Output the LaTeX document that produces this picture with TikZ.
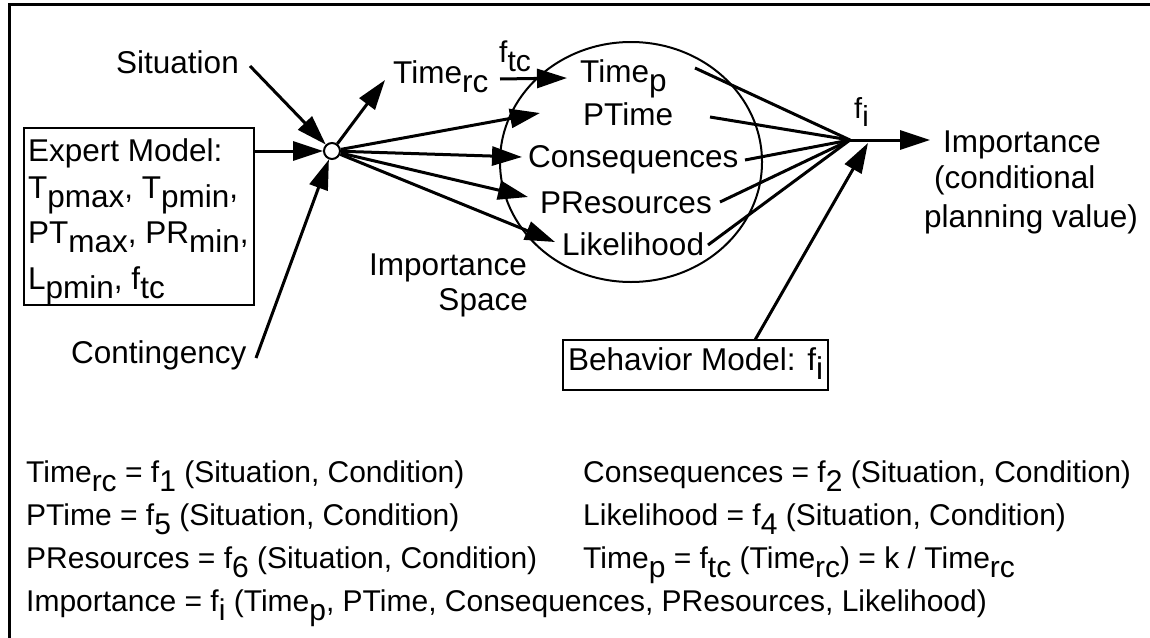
\documentclass[tikz,border=0pt]{standalone}
\usepackage{fontspec}
\setmainfont{Liberation Sans}
\usetikzlibrary{arrows.meta,shapes.geometric,calc}
\newcommand\lowr[1]{\raisebox{-0.3em}{#1}}
\begin{document}
\begin{tikzpicture}[x=1pt,y=-1pt,
  lbl/.style={inner sep=0pt, anchor=base west, font=\fontsize{31.5}{36}\selectfont},
  lble/.style={inner sep=0pt, anchor=base east, font=\fontsize{31.5}{36}\selectfont},
  eqn/.style={inner sep=0pt, anchor=base west, font=\fontsize{30}{36}\selectfont},
  arr/.style={line width=3pt, -{Triangle[length=30pt,width=19pt]}},
  ln/.style={line width=3pt},
  boxst/.style={draw, line width=2.2pt}]
\useasboundingbox (0,0) rectangle (1150,637);
% frame (top and left only visible)
\draw[line width=2.6pt] (9.5,650) -- (9.5,4.7) -- (1160,4.7);

% inputs
\node[lbl] (sit) at (116,73) {Situation};
\node[lbl] (cont) at (71,363) {Contingency};
\node[boxst, minimum width=230pt, minimum height=177pt, anchor=north west, inner sep=0pt] (expert) at (23,127) {};
\node[lbl] (ex1) at (28,161) {Expert Model:};
\node[lbl] (ex2) at (28,198) {T\lowr{pmax}, T\lowr{pmin},};
\node[lbl] (ex3) at (28,243) {PT\lowr{max}, PR\lowr{min},};
\node[lbl] (ex4) at (28,289) {L\lowr{pmin}, f\lowr{tc}};

% importance space
\node[ellipse, draw, line width=2pt, minimum width=262pt, minimum height=240pt, inner sep=0pt] (space) at (631,162) {};
\node[lbl] (timerc) at (393,83) {Time\lowr{rc}};
\node[inner sep=0pt, anchor=base west, font=\fontsize{30}{34}\selectfont] (ftc) at (499,62) {f\lowr{tc}};
\node[lbl] (timep) at (580,82) {Time\lowr{p}};
\node[lbl] (ptime) at (583,125) {PTime};
\node[lbl] (cons) at (528,167) {Consequences};
\node[lbl] (pres) at (540,213) {PResources};
\node[lbl] (like) at (562,255) {Likelihood};
\node[lble] (is1) at (527,275) {Importance};
\node[lble] (is2) at (528,310) {Space};

% output
\node[inner sep=0pt, anchor=base west, font=\fontsize{29}{32}\selectfont] (filbl) at (854,118) {f\lowr{i}};
\node[lbl] (imp1) at (943,152) {Importance};
\node[lbl] (imp2) at (934,188) {(conditional};
\node[lbl] (imp3) at (924,227) {planning value)};
\node[boxst, anchor=base west, inner xsep=5pt, inner ysep=8pt, text height=22pt, text depth=12pt, font=\fontsize{31.5}{36}\selectfont] (beh) at (562,370) {Behavior Model: f\lowr{i}};

% coordinates
\coordinate (sitA) at (250,66);
\coordinate (contA) at (256,358);
\coordinate (rcTip) at (385,80);
\coordinate (rcA) at (500,79);
\coordinate (pTip) at (567,78);
\coordinate (ptTip) at (540,113);
\coordinate (coTip) at (522,157);
\coordinate (prTip) at (528,197);
\coordinate (liTip) at (555,242);
\coordinate (c1) at (695,68);
\coordinate (c2) at (710,117);
\coordinate (c3) at (745,160);
\coordinate (c4) at (720,202);
\coordinate (c5) at (708,245);
\coordinate (fi) at (850,140);
\coordinate (impTip) at (930,140);
\coordinate (behA) at (755,340);
\coordinate (behTip) at (868,143);

\node[circle, draw, line width=2pt, fill=white, minimum size=16pt, inner sep=0pt] (hub) at (332,151) {};

% connectors
\draw[arr] (sitA) -- (hub);
\draw[arr] (contA) -- (hub);
\draw[arr] (expert.east |- hub) -- (hub);
\draw[arr] (hub) -- (rcTip);
\draw[arr] (rcA) -- (pTip);
\draw[arr] (hub) -- (ptTip);
\draw[arr] (hub) -- (coTip);
\draw[arr] (hub) -- (prTip);
\draw[arr] (hub) -- (liTip);
\draw[ln] (c1) -- (fi);
\draw[ln] (c2) -- (fi);
\draw[ln] (c3) -- (fi);
\draw[ln] (c4) -- (fi);
\draw[ln] (c5) -- (fi);
\draw[arr] (fi) -- (impTip);
\draw[arr] (behA) -- (behTip);

% equations
\node[eqn] (e1) at (26,482) {Time\lowr{rc} = f\lowr{1} (Situation, Condition)};
\node[eqn] (e2) at (26,525) {PTime = f\lowr{5} (Situation, Condition)};
\node[eqn] (e3) at (26,568) {PResources = f\lowr{6} (Situation, Condition)};
\node[eqn] (e4) at (26,611) {Importance = f\lowr{i} (Time\lowr{p}, PTime, Consequences, PResources, Likelihood)};
\node[eqn] (e5) at (583,482) {Consequences = f\lowr{2} (Situation, Condition)};
\node[eqn] (e6) at (583,525) {Likelihood = f\lowr{4} (Situation, Condition)};
\node[eqn] (e7) at (583,568) {Time\lowr{p} = f\lowr{tc} (Time\lowr{rc}) = k / Time\lowr{rc}};
\end{tikzpicture}
\end{document}
